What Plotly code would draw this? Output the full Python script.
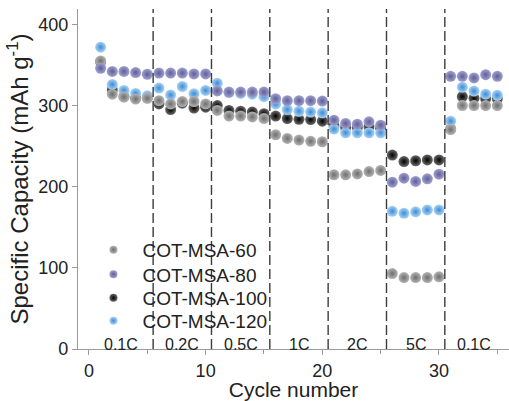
import plotly.graph_objects as go

# Rate-capability test: specific capacity per cycle for four COT-MSA samples
cycles = list(range(1, 36))

cap_60 = [355, 314, 310.5, 308, 309, 306, 302, 305, 305, 302,
          294, 287, 287, 286, 284, 264, 259.5, 257.5, 256, 255.4,
          214.7, 214.6, 215.8, 218.7, 220, 93, 88, 88, 88, 89,
          270.5, 300, 300, 300, 300]
cap_80 = [346, 342, 342, 340.7, 338.6, 340, 340, 340, 339, 339,
          318, 316.6, 316.6, 316.6, 316.6, 308.4, 306, 306, 306, 305.6,
          282, 278, 277, 280, 275.8, 205.6, 210.5, 206.5, 209.7, 215.4,
          336, 336, 334, 338, 336]
cap_100 = [354, 319.5, 311, 309, 309.5, 302, 295, 303, 297, 298,
           300, 294, 293, 292, 290, 287, 284, 283, 282.7, 280.7,
           275, 273, 273, 274, 272, 239, 231, 232, 233, 233,
           271, 311, 309, 308.4, 308.4]
cap_120 = [372, 326, 318.6, 315, 312, 321.5, 313, 323.5, 314.5, 318.6,
           327.6, 316, 315, 314, 311, 302, 295, 293, 292, 291,
           271, 266.5, 266.5, 266.5, 266.5, 169.7, 167.3, 169, 171.4, 171.4,
           280.7, 322.7, 317.8, 314, 312.6]

series_names = ["COT-MSA-60", "COT-MSA-80", "COT-MSA-100", "COT-MSA-120"]

# Current-rate steps: label and the cycle range each one covers
rate_labels = ["0.1C", "0.2C", "0.5C", "1C", "2C", "5C", "0.1C"]
rate_bounds = [0, 5.5, 10.5, 15.5, 20.5, 25.5, 30.5, 35.5]

FONT = "Liberation Sans, Arial, sans-serif"

# (centre colour, rim colour) for the shaded ball markers
styles = {
    "COT-MSA-60": ("#b4b4b4", "#6e6e6e"),
    "COT-MSA-80": ("#a0a0d0", "#5f5f96"),
    "COT-MSA-100": ("#6a6a6a", "#000000"),
    "COT-MSA-120": ("#a8d4f6", "#3f8ad2"),
}
values = {
    "COT-MSA-60": cap_60,
    "COT-MSA-80": cap_80,
    "COT-MSA-100": cap_100,
    "COT-MSA-120": cap_120,
}

fig = go.Figure()

# data markers (draw order controls which ball sits on top where they overlap)
for name in ["COT-MSA-100", "COT-MSA-120", "COT-MSA-60", "COT-MSA-80"]:
    c0, c1 = styles[name]
    fig.add_trace(go.Scatter(
        x=cycles, y=values[name], mode="markers", name=name, showlegend=False,
        marker=dict(size=11, color=c0, gradient=dict(type="radial", color=c1),
                    line=dict(width=0)),
    ))

# one small legend per series so the rows can be spaced tightly
legend_ids = ["legend", "legend2", "legend3", "legend4"]
legend_rows = [0.2915, 0.2195, 0.150, 0.083]
for name, lid in zip(series_names, legend_ids):
    c0, c1 = styles[name]
    fig.add_trace(go.Scatter(
        x=[None], y=[None], mode="markers", name=name, legend=lid,
        marker=dict(size=8, color=c0, gradient=dict(type="radial", color=c1),
                    line=dict(width=0)),
    ))

# dashed separators between rate steps
for b in rate_bounds[1:-1]:
    fig.add_shape(type="line", xref="x", yref="y", x0=b, x1=b, y0=0, y1=419,
                  line=dict(color="#3c3c3c", width=1.4, dash="10px,4px"),
                  layer="above")

# rate labels centred in each step
for i, lab in enumerate(rate_labels):
    xm = (rate_bounds[i] + rate_bounds[i + 1]) / 2
    fig.add_annotation(x=xm, y=6, xref="x", yref="y", text=lab,
                       showarrow=False, yanchor="middle",
                       font=dict(family=FONT, size=16, color="#222"))

legend_style = dict(x=0.015, xanchor="left", yanchor="middle",
                    bgcolor="rgba(0,0,0,0)", itemwidth=48,
                    font=dict(family=FONT, size=19, color="#222"))

fig.update_layout(
    width=509, height=401,
    margin=dict(l=78, r=0, t=9, b=49),
    paper_bgcolor="white", plot_bgcolor="white",
    font=dict(family=FONT, color="#222"),
    **{lid: dict(y=yr, **legend_style) for lid, yr in zip(legend_ids, legend_rows)},
)

fig.update_xaxes(
    range=[-0.94, 36.0], showgrid=False, zeroline=False,
    showline=True, linecolor="#9a9a9a", linewidth=1.3,
    tickmode="array", tickvals=[0, 10, 20, 30], ticks="outside",
    ticklen=5, tickcolor="#9a9a9a",
    minor=dict(tickvals=[5, 15, 25, 35], ticks="outside", ticklen=4,
               tickcolor="#9a9a9a"),
    tickfont=dict(family=FONT, size=18, color="#222"),
    title=dict(text="Cycle number", font=dict(family=FONT, size=21, color="#222"),
               standoff=6),
)
fig.update_yaxes(
    range=[0, 419], showgrid=False, zeroline=False,
    showline=True, linecolor="#9a9a9a", linewidth=1.3,
    tickmode="array", tickvals=[0, 100, 200, 300, 400], ticks="outside",
    ticklen=5, tickcolor="#9a9a9a",
    tickfont=dict(family=FONT, size=18, color="#222"),
    title=dict(text="Specific Capacity (mAh g<sup>-1</sup>)",
               font=dict(family=FONT, size=24, color="#222"), standoff=2),
)

fig.write_html("out.html")
